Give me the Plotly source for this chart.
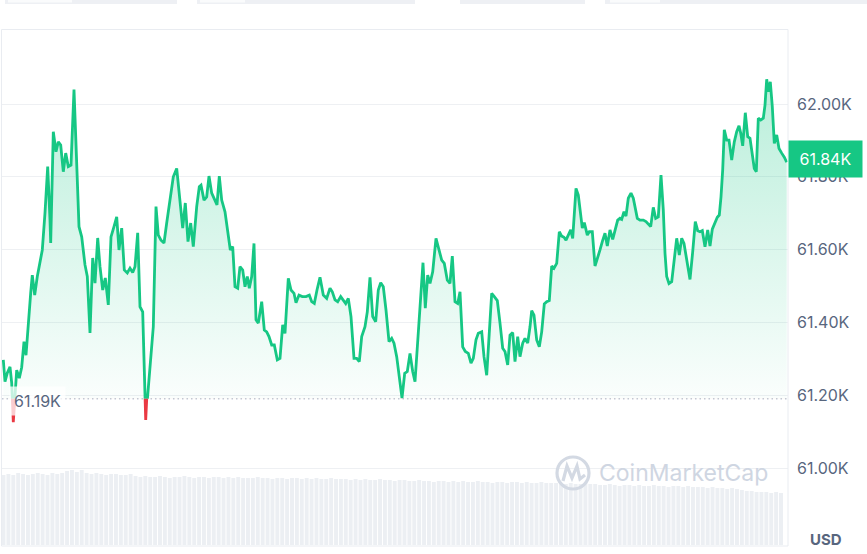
import plotly.graph_objects as go
import numpy as np

# ---------------- data ----------------
t = [3.3, 5.0, 7.3, 10.0, 11.7, 13.3, 16.7, 19.3, 21.7, 24.0,
     26.0, 28.3, 30.7, 32.3, 34.7, 37.3, 40.0, 42.3, 45.0, 47.7,
     50.0, 50.7, 53.3, 56.0, 58.3, 60.7, 63.3, 65.7, 68.3, 71.0,
     74.0, 76.7, 79.0, 81.7, 85.0, 87.3, 90.0, 92.7, 95.0, 97.7,
     100.0, 102.7, 105.3, 108.3, 111.0, 114.0, 116.7, 119.0, 121.7, 124.3,
     127.3, 130.0, 132.7, 135.0, 137.7, 140.0, 142.7, 145.7, 150.0, 153.3,
     156.0, 158.3, 161.0, 164.0, 166.7, 170.0, 173.3, 176.7, 180.0, 182.7,
     185.3, 188.0, 190.7, 193.3, 196.7, 199.3, 201.0, 204.0, 206.7, 209.0,
     211.7, 214.3, 217.0, 219.3, 221.7, 225.0, 228.3, 230.3, 232.7, 235.0,
     237.7, 240.0, 242.7, 245.0, 247.3, 249.3, 251.7, 254.0, 256.0, 258.3,
     261.7, 264.3, 266.7, 269.0, 271.7, 274.3, 277.3, 280.0, 282.7, 285.0,
     288.3, 291.0, 294.0, 296.0, 299.0, 302.3, 306.0, 309.3, 311.7, 314.3,
     317.0, 320.0, 323.3, 326.7, 330.0, 332.3, 335.0, 337.7, 340.7, 343.3,
     345.7, 348.3, 351.0, 354.0, 356.7, 359.3, 361.7, 365.0, 367.3, 370.0,
     372.7, 375.7, 378.3, 380.7, 383.3, 386.0, 389.0, 391.7, 394.0, 396.7,
     399.3, 402.0, 404.7, 407.3, 410.0, 412.7, 415.0, 418.3, 420.7, 423.0,
     425.3, 427.7, 430.0, 432.7, 436.0, 439.0, 441.7, 444.3, 447.3, 450.0,
     452.3, 455.0, 457.7, 460.0, 462.7, 465.3, 468.3, 471.0, 473.3, 476.0,
     478.3, 481.7, 484.0, 486.7, 489.3, 491.7, 494.3, 497.3, 500.0, 502.7,
     505.0, 507.7, 510.0, 512.7, 515.0, 517.7, 520.0, 522.7, 525.0, 527.7,
     530.0, 531.7, 534.0, 536.7, 539.3, 541.7, 544.3, 546.7, 549.3, 551.7,
     554.0, 556.7, 559.3, 561.7, 564.0, 566.0, 568.3, 570.7, 572.7, 574.0,
     576.0, 578.3, 580.7, 582.3, 584.3, 587.3, 589.3, 592.3, 595.0, 597.7,
     600.0, 602.3, 605.0, 607.3, 610.0, 612.7, 615.0, 617.7, 620.0, 621.7,
     624.0, 626.0, 628.3, 631.0, 633.3, 635.7, 637.3, 640.0, 643.3, 646.0,
     648.3, 650.7, 653.3, 655.7, 658.3, 661.0, 663.3, 665.0, 666.7, 669.0,
     671.7, 674.3, 676.7, 679.3, 681.7, 684.0, 686.7, 690.0, 692.7, 695.3,
     697.7, 700.0, 702.3, 705.0, 707.7, 710.0, 712.3, 715.0, 717.3, 719.3,
     721.0, 722.7, 724.3, 726.7, 729.0, 731.7, 734.3, 736.7, 739.0, 740.7,
     742.7, 745.3, 747.7, 750.0, 752.3, 754.3, 756.3, 758.3, 760.7, 763.3,
     765.0, 766.7, 768.3, 770.3, 772.3, 774.3, 776.7, 779.0, 781.7, 784.3,
     786.7]

price_k = [61.297, 61.237, 61.261, 61.278, 61.234, 61.126, 61.269, 61.247, 61.277, 61.347,
           61.310, 61.407, 61.481, 61.530, 61.475, 61.526, 61.563, 61.599, 61.701, 61.828,
           61.681, 61.618, 61.924, 61.869, 61.896, 61.887, 61.814, 61.865, 61.828, 61.832,
           62.040, 61.846, 61.663, 61.635, 61.558, 61.526, 61.371, 61.577, 61.508, 61.632,
           61.553, 61.489, 61.522, 61.448, 61.635, 61.663, 61.690, 61.599, 61.659, 61.544,
           61.536, 61.549, 61.537, 61.553, 61.646, 61.443, 61.429, 61.132, 61.278, 61.388,
           61.718, 61.640, 61.626, 61.618, 61.673, 61.736, 61.800, 61.823, 61.736, 61.659,
           61.728, 61.622, 61.673, 61.608, 61.718, 61.773, 61.777, 61.736, 61.745, 61.802,
           61.755, 61.741, 61.723, 61.802, 61.736, 61.704, 61.640, 61.599, 61.608, 61.498,
           61.494, 61.553, 61.544, 61.498, 61.526, 61.494, 61.526, 61.617, 61.407, 61.398,
           61.457, 61.379, 61.374, 61.361, 61.338, 61.338, 61.297, 61.301, 61.393, 61.370,
           61.521, 61.489, 61.480, 61.454, 61.475, 61.471, 61.471, 61.475, 61.457, 61.452,
           61.489, 61.524, 61.475, 61.466, 61.494, 61.484, 61.462, 61.457, 61.471, 61.462,
           61.452, 61.466, 61.416, 61.301, 61.301, 61.292, 61.361, 61.388, 61.429, 61.524,
           61.416, 61.402, 61.489, 61.509, 61.498, 61.434, 61.347, 61.356, 61.343, 61.306,
           61.251, 61.192, 61.260, 61.265, 61.315, 61.265, 61.237, 61.361, 61.462, 61.564,
           61.439, 61.530, 61.507, 61.539, 61.631, 61.599, 61.571, 61.562, 61.516, 61.507,
           61.582, 61.457, 61.452, 61.484, 61.333, 61.320, 61.315, 61.288, 61.301, 61.352,
           61.370, 61.374, 61.306, 61.255, 61.361, 61.480, 61.471, 61.460, 61.398, 61.329,
           61.320, 61.283, 61.365, 61.372, 61.292, 61.361, 61.306, 61.343, 61.356, 61.343,
           61.388, 61.432, 61.420, 61.352, 61.333, 61.374, 61.451, 61.457, 61.460, 61.555,
           61.549, 61.562, 61.649, 61.637, 61.634, 61.626, 61.640, 61.654, 61.631, 61.690,
           61.768, 61.750, 61.700, 61.659, 61.674, 61.640, 61.649, 61.649, 61.555, 61.576,
           61.599, 61.622, 61.645, 61.610, 61.654, 61.628, 61.656, 61.681, 61.686, 61.683,
           61.704, 61.692, 61.741, 61.755, 61.741, 61.709, 61.686, 61.681, 61.681, 61.677,
           61.670, 61.663, 61.716, 61.686, 61.690, 61.805, 61.709, 61.590, 61.526, 61.507,
           61.512, 61.567, 61.631, 61.585, 61.631, 61.617, 61.571, 61.518, 61.594, 61.677,
           61.652, 61.649, 61.652, 61.608, 61.654, 61.610, 61.656, 61.677, 61.689, 61.695,
           61.745, 61.819, 61.929, 61.901, 61.901, 61.846, 61.896, 61.924, 61.940, 61.920,
           61.885, 61.976, 61.910, 61.906, 61.855, 61.823, 61.814, 61.961, 61.956, 61.961,
           61.997, 62.068, 62.034, 62.061, 61.993, 61.892, 61.915, 61.878, 61.865, 61.854,
           61.840]

volume = [70, 71, 70, 72, 71, 70, 71, 72, 71, 70, 72, 71, 72,
          74, 75, 73, 75,
          72, 71, 72, 71, 70, 71, 71, 70, 70, 71,
          69, 68, 69, 68, 68, 69, 68, 67, 68, 68, 69, 68, 67, 68, 68, 67, 68, 68, 67, 68, 67, 68, 67, 67,
          67, 68, 67, 67, 66, 67, 67, 66, 67, 67, 66, 67, 66, 67, 66, 66, 67, 66, 66,
          66, 65, 66, 65, 66, 65, 65, 66, 65, 65, 64, 65,
          65, 64, 64, 65, 64, 64, 63, 64, 64, 63,
          64, 63, 64, 63, 63, 64, 63, 63, 62, 63, 63, 62, 63, 63, 62, 63, 62, 62, 63, 62, 62, 62,
          62, 61, 62, 61, 61, 62, 61, 61,
          60, 60, 61, 60, 59, 60, 60, 59, 60, 59, 59, 60, 59, 59, 58, 59, 59, 58, 59, 58, 58,
          58, 57, 58, 57, 57, 56, 57, 56,
          55, 54, 54, 53, 53, 53, 52, 53, 52]

base_price = 61.19
last_price = 61.84
ytick_vals = [61.0, 61.2, 61.4, 61.6, 61.8, 62.0]
ytick_text = ["61.00K", "61.20K", "61.40K", "61.60K", "61.80K", "62.00K"]

assert len(t) == len(price_k)

# ---------------- styling / layout constants ----------------
GREEN = "#16c784"
RED = "#ea3943"
GRID = "#eef0f3"
TXT = "#58667e"
FONT = "Inter"

W, H = 867, 554
ML, MR, MT, MB = 2, 79, 30, 9
PW, PH = W - ML - MR, H - MT - MB
Y_MIN, Y_MAX = 60.7885, 62.2033
X_MIN, X_MAX = 2, 788
split = (base_price - Y_MIN) / (Y_MAX - Y_MIN)


def px(x):
    return (x - ML) / PW


def py(y):
    return (H - MB - y) / PH


fig = go.Figure()

# anchor trace for the main (grid / tick) axis
fig.add_trace(go.Scatter(x=[t[0]], y=[None], xaxis="x", yaxis="y",
                         mode="lines", showlegend=False, hoverinfo="skip"))

# volume bars
vol_t = np.linspace(3.5, 781, len(volume))
fig.add_trace(go.Bar(x=vol_t, y=volume, xaxis="x", yaxis="y4",
                     marker=dict(color="#eceff3", line=dict(width=0)),
                     showlegend=False, hoverinfo="skip"))

# upper (green) part: clipped to the area above the base price
fig.add_trace(go.Scatter(x=t, y=[base_price] * len(t), xaxis="x", yaxis="y2",
                         mode="lines", line=dict(width=0, color="rgba(0,0,0,0)"),
                         showlegend=False, hoverinfo="skip"))
fig.add_trace(go.Scatter(x=t, y=price_k, xaxis="x", yaxis="y2", mode="lines",
                         line=dict(color=GREEN, width=2.8),
                         fill="tonexty",
                         fillgradient=dict(type="vertical",
                                           colorscale=[[0, "rgba(22,199,132,0.02)"],
                                                       [1, "rgba(22,199,132,0.30)"]],
                                           start=base_price, stop=62.07),
                         showlegend=False, hoverinfo="skip"))

# lower (red) part: clipped to the area below the base price
fig.add_trace(go.Scatter(x=t, y=[base_price] * len(t), xaxis="x", yaxis="y3",
                         mode="lines", line=dict(width=0, color="rgba(0,0,0,0)"),
                         showlegend=False, hoverinfo="skip"))
fig.add_trace(go.Scatter(x=t, y=price_k, xaxis="x", yaxis="y3", mode="lines",
                         line=dict(color=RED, width=2.8),
                         fill="tonexty", fillcolor="rgba(234,57,67,0.12)",
                         showlegend=False, hoverinfo="skip"))

shapes = [
    # panel border
    dict(type="rect", xref="paper", yref="paper", x0=px(1.5), x1=1, y0=py(546), y1=py(29.5),
         line=dict(color="#e9ecf1", width=1), fillcolor="rgba(0,0,0,0)", layer="above"),
    # base price dotted line
    dict(type="line", xref="paper", yref="y", x0=0, x1=1, y0=base_price, y1=base_price,
         line=dict(color="#a6b0c3", width=1, dash="1.5px,3px"), layer="below"),
    # watermark logo
    dict(type="circle", xref="paper", yref="paper", x0=px(557), x1=px(589), y0=py(489), y1=py(457),
         line=dict(color="#d3d9e3", width=3.2), fillcolor="rgba(0,0,0,0)", layer="above"),
    dict(type="path", xref="paper", yref="paper",
         path=f"M {px(563)} {py(481)} L {px(567)} {py(466)} L {px(572)} {py(478)} "
              f"L {px(577)} {py(466)} L {px(580)} {py(479)} L {px(585)} {py(475)}",
         line=dict(color="#d3d9e3", width=3.2), layer="above"),
]

# partial page buttons at the very top
for x0, x1, ix0, ix1 in [(5, 177, 8, 72), (197, 415, 200, 245), (460, 585, None, None), (605, 867, 610, 660)]:
    shapes.append(dict(type="rect", xref="paper", yref="paper", x0=px(x0), x1=px(x1),
                       y0=py(4), y1=py(-2), line=dict(width=0), fillcolor="#eef0f4", layer="above"))
    if ix0 is not None:
        shapes.append(dict(type="rect", xref="paper", yref="paper", x0=px(ix0), x1=px(ix1),
                           y0=py(2.5), y1=py(-2), line=dict(width=0), fillcolor="#fafbfc", layer="above"))

annotations = [
    dict(text="61.84K", xref="paper", yref="y", x=1.0, y=61.848, xanchor="left", yanchor="middle",
         showarrow=False, font=dict(family=FONT, size=16, color="white"),
         bgcolor=GREEN, width=73, height=36, borderpad=0, align="center", valign="middle"),
    dict(text="61.19K", xref="paper", yref="y", x=px(37), y=base_price - 0.005, xanchor="center",
         yanchor="middle", showarrow=False, font=dict(family=FONT, size=16, color=TXT),
         bgcolor="rgba(255,255,255,0.75)", borderpad=4),
    dict(text="CoinMarketCap", xref="paper", yref="paper", x=px(597), y=py(473), xanchor="left",
         yanchor="middle", showarrow=False, font=dict(family=FONT, size=23, color="#cfd6e2")),
    dict(text="<b>USD</b>", xref="paper", yref="paper", x=px(826), y=py(539), xanchor="center",
         yanchor="middle", showarrow=False, font=dict(family=FONT, size=15, color=TXT)),
]

fig.update_layout(
    width=W, height=H,
    margin=dict(l=ML, r=MR, t=MT, b=MB, pad=0),
    paper_bgcolor="white", plot_bgcolor="rgba(0,0,0,0)",
    showlegend=False, bargap=0.2,
    font=dict(family=FONT, color=TXT),
    xaxis=dict(range=[X_MIN, X_MAX], visible=False, fixedrange=True),
    yaxis=dict(domain=[0, 1], range=[Y_MIN, Y_MAX], side="right", anchor="x",
               tickvals=ytick_vals, ticktext=ytick_text, ticks="", ticklabelstandoff=8,
               showgrid=True, gridcolor=GRID, gridwidth=1, zeroline=False, showline=False,
               tickfont=dict(family=FONT, size=16, color=TXT)),
    yaxis2=dict(domain=[split, 1], range=[base_price, Y_MAX], anchor="x", visible=False),
    yaxis3=dict(domain=[0, split], range=[Y_MIN, base_price], anchor="x", visible=False),
    yaxis4=dict(domain=[0, 0.2], range=[0, 0.2 * PH], anchor="x", visible=False),
    shapes=shapes,
    annotations=annotations,
)

fig.write_html("out.html")
